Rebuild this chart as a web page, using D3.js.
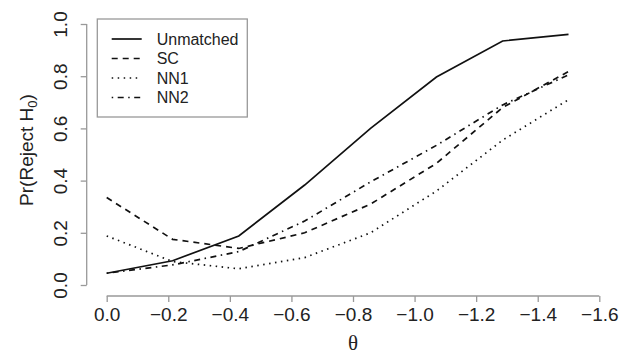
<!DOCTYPE html>
<html>
<head>
<meta charset="utf-8">
<script src="https://cdn.jsdelivr.net/npm/d3@7"></script>
<style>
  body { margin: 0; background: #fff; }
  svg text { font-family: "Liberation Sans", Arial, sans-serif; fill: #222; }
</style>
</head>
<body>
<div id="chart"></div>
<script>
// theta values (x) and rejection probabilities per method
const theta = [0, -0.214, -0.429, -0.643, -0.857, -1.071, -1.286, -1.5];
const unmatched = [0.045, 0.093, 0.188, 0.383, 0.600, 0.797, 0.935, 0.960];
const sc = [0.335, 0.175, 0.140, 0.200, 0.310, 0.466, 0.680, 0.818];
const nn1 = [0.188, 0.090, 0.062, 0.105, 0.200, 0.360, 0.555, 0.710];
const nn2 = [0.045, 0.077, 0.128, 0.245, 0.395, 0.535, 0.690, 0.805];
const seriesNames = ["Unmatched", "SC", "NN1", "NN2"];
const xTicks = [0, -0.2, -0.4, -0.6, -0.8, -1.0, -1.2, -1.4, -1.6];
const yTicks = [0, 0.2, 0.4, 0.6, 0.8, 1.0];

const W = 635, H = 354;
const dashes = ["none", "6,5", "1.5,4.5", "1.5,4.5,6,4.5"];
const seriesValues = [unmatched, sc, nn1, nn2];

const svg = d3.select("#chart").append("svg")
  .attr("width", W).attr("height", H)
  .attr("viewBox", `0 0 ${W} ${H}`);

const x = d3.scaleLinear().domain([0, -1.6]).range([106.7, 599.3]);
const y = d3.scaleLinear().domain([0, 1]).range([285, 24]);

// x axis
const xAxis = svg.append("g")
  .attr("transform", "translate(0, 296)")
  .call(d3.axisBottom(x).tickValues(xTicks).tickSize(6).tickPadding(6)
    .tickFormat(d3.format(".1f")));
xAxis.selectAll("path, line").attr("stroke", "#999").attr("stroke-width", 1.3);
xAxis.select(".domain").attr("d", `M${x(0)},0H${x(-1.6)}`);
xAxis.selectAll("text").attr("font-size", 19).attr("dy", "0.71em")
  .style("font-family", "Liberation Sans, Arial, sans-serif").attr("fill", "#222");

// y axis
const yAxis = svg.append("g")
  .attr("transform", "translate(86.7, 0)")
  .call(d3.axisLeft(y).tickValues(yTicks).tickSize(6)
    .tickFormat(d3.format(".1f")));
yAxis.selectAll("path, line").attr("stroke", "#999").attr("stroke-width", 1.3);
yAxis.select(".domain").attr("d", `M0,${y(0)}V${y(1)}`);
yAxis.selectAll("text")
  .attr("transform", "rotate(-90)")
  .attr("x", 0).attr("y", -20).attr("dy", 0)
  .attr("text-anchor", "middle")
  .attr("font-size", 19)
  .style("font-family", "Liberation Sans, Arial, sans-serif").attr("fill", "#222");

// axis titles
svg.append("text")
  .attr("x", 353).attr("y", 350)
  .attr("text-anchor", "middle")
  .attr("font-size", 21)
  .style("font-family", "Liberation Serif, DejaVu Serif, serif")
  .text("θ");

const yt = svg.append("text")
  .attr("transform", `translate(33, 150) rotate(-90)`)
  .attr("text-anchor", "middle")
  .attr("font-size", 19);
yt.append("tspan").text("Pr(Reject H");
yt.append("tspan").attr("font-size", 13).attr("dy", 4).text("0");
yt.append("tspan").attr("dy", -4).text(")");

// lines
const line = d3.line()
  .x((d, i) => x(theta[i]))
  .y(d => y(d));

svg.append("g").attr("class", "series")
  .selectAll("path")
  .data(seriesValues)
  .join("path")
  .attr("d", line)
  .attr("fill", "none")
  .attr("stroke", "#111")
  .attr("stroke-width", 1.7)
  .attr("stroke-dasharray", (d, i) => dashes[i]);

// legend
const legend = svg.append("g").attr("class", "legend");
legend.append("rect")
  .attr("x", 97.3).attr("y", 19).attr("width", 150).attr("height", 98)
  .attr("fill", "#fff").attr("stroke", "#999").attr("stroke-width", 1.3);

const rows = legend.selectAll("g.row")
  .data(seriesNames)
  .join("g")
  .attr("class", "row")
  .attr("transform", (d, i) => `translate(0, ${39 + i * 19.5})`);
rows.append("line")
  .attr("x1", 111.7).attr("x2", 141.7)
  .attr("stroke", "#111").attr("stroke-width", 1.7)
  .attr("stroke-dasharray", (d, i) => dashes[i]);
rows.append("text")
  .attr("x", 156.7).attr("dy", "0.36em")
  .attr("font-size", 16)
  .text(d => d);
</script>
</body>
</html>
